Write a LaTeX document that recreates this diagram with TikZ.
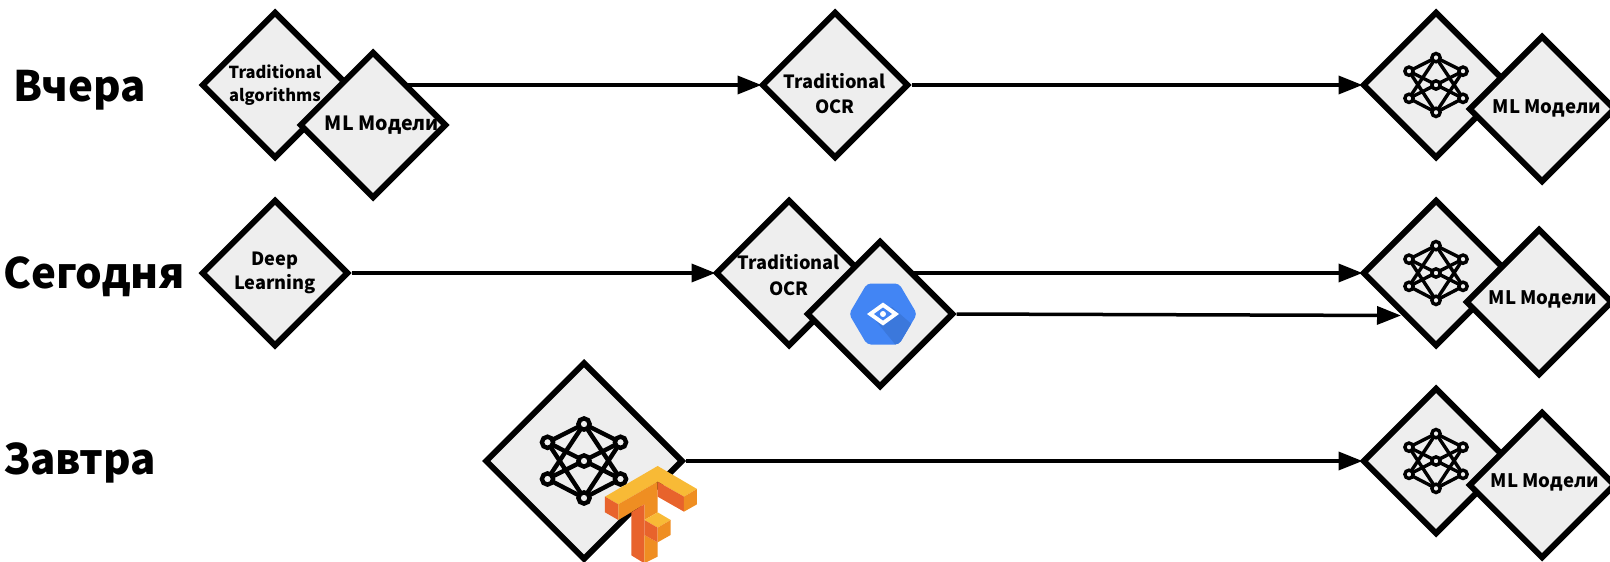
\documentclass[tikz,border=0pt]{standalone}
\usepackage{fontspec}
\setmainfont{Noto Sans CJK SC}
\usetikzlibrary{shapes.geometric,arrows.meta,backgrounds}
\definecolor{boxgrey}{HTML}{EEEEEE}
\definecolor{gvblue}{HTML}{4285F4}
\definecolor{gvshade}{HTML}{3B78DC}
\definecolor{tfyellow}{HTML}{F8BA36}
\definecolor{tforange}{HTML}{EF8E22}
\definecolor{tfred}{HTML}{E8632C}
\tikzset{
  box/.style={diamond,draw=black,fill=boxgrey,line width=6pt,aspect=1,inner sep=0pt,minimum size=147pt},
  bigbox/.style={box,minimum size=198pt},
  lbl/.style={font=\fontsize{16.5}{22.5}\selectfont\bfseries,align=center,inner sep=0pt},
  lblml/.style={font=\fontsize{18.6}{22}\selectfont\bfseries,align=center,inner sep=0pt},
  lblbig/.style={font=\fontsize{18.2}{25.5}\selectfont\bfseries,align=center,inner sep=0pt},
  rowname/.style={font=\fontsize{42}{50}\selectfont\bfseries,anchor=west,inner sep=0pt},
  link/.style={line width=3.5pt,shorten >=-3pt,-{Triangle[length=24pt,width=18pt]}},
  nnicon/.pic={
    \foreach \a/\b in {-36.5/-18.7,36.5/-18.7,-36.5/18,36.5/18}{
      \draw (\a,\b) -- (0,-37);
      \draw (\a,\b) -- (0,37);
    }
    \draw (-36.5,-18.7) -- (36.5,18);
    \draw (36.5,-18.7) -- (-36.5,18);
    \foreach \a/\b in {0/-37,0/37,0/0,-36.5/-18.7,36.5/-18.7,-36.5/18,36.5/18}
      \draw[fill=boxgrey] (\a,\b) circle (5.6);
  }
}
\begin{document}
\begin{tikzpicture}[x=1pt,y=-1pt]
\useasboundingbox (0,0) rectangle (1610,562);
% row names
\node[rowname] (yesterday) at (13,90) {Вчера};
\node[rowname] (today) at (3,277) {Сегодня};
\node[rowname] (tomorrow) at (3,463) {Завтра};
% first row
\node[box] (algA) at (275,85) {};
\node[box] (mlA) at (373,125) {};
\node[box] (ocrA) at (835,85) {};
\node[box] (nnA) at (1436,85) {};
\node[box] (mlB) at (1542,109) {};
\node[lbl] (algText) at (275,85) {Traditional\\algorithms};
\node[font=\fontsize{19.6}{22}\selectfont\bfseries,inner sep=0pt] (mlAText) at (382,125) {ML Модели};
\node[lblbig] (ocrAText) at (835,93.5) {Traditional\\OCR};
\node[lblml] (mlBText) at (1547,108) {ML Модели};
\pic[scale=.74,line width=3.4pt] at (nnA) {nnicon};
% second row
\node[box] (deep) at (275,273) {};
\node[box] (ocrB) at (789,273) {};
\node[box] (gvB) at (880,314) {};
\node[box] (nnB) at (1436,273) {};
\node[box] (mlC) at (1539,302) {};
\node[lbl,font=\fontsize{18.2}{24.5}\selectfont\bfseries] (deepText) at (275,273) {Deep\\Learning};
\node[lblbig] (ocrBText) at (789,275) {Traditional\\OCR};
\node[lblml] (mlCText) at (1543,299.5) {ML Модели};
\pic[scale=.74,line width=3.4pt] at (nnB) {nnicon};
\coordinate (tipB) at (1398,315.5);
% vision logo
\begin{scope}[shift={(883,314)}]
  \begin{scope}
    \clip[rounded corners=4pt] (-34,0) -- (-16,-30.5) -- (16,-30.5) -- (34,0) -- (16,30.5) -- (-16,30.5) -- cycle;
    \fill[gvblue] (-34,-31) rectangle (34,31);
    \fill[gvshade] (-7,7) -- (9,-7) -- (40,20) -- (20,40) -- cycle;
  \end{scope}
  \fill[white] (-16,0) -- (0,-11.5) -- (16,0) -- (0,11.5) -- cycle;
  \fill[gvblue] (-9,0) -- (0,-6.5) -- (9,0) -- (0,6.5) -- cycle;
  \fill[white] (0,0) circle (3);
\end{scope}
% third row
\node[bigbox] (nnBig) at (584,461) {};
\node[box] (nnC) at (1436,461) {};
\node[box] (mlD) at (1542,485) {};
\node[lblml] (mlDText) at (1545,482) {ML Модели};
\pic[line width=4.4pt] at (nnBig) {nnicon};
\pic[scale=.74,line width=3.4pt] at (nnC) {nnicon};
% tensorflow logo
\begin{scope}[shift={(480,350)},x=.3333pt,y=-.3333pt]
  \fill[tfyellow] (375,440) -- (533,348) -- (651,417) -- (612,440) -- (533,395) -- (415,463) -- cycle;
  \fill[tfred] (375,440) -- (415,463) -- (415,510) -- (375,487) -- cycle;
  \fill[tforange] (415,463) -- (533,395) -- (533,487) -- (493,510) -- (493,463) -- (415,510) -- cycle;
  \fill[tfred] (533,395) -- (612,440) -- (612,485) -- (533,440) -- cycle;
  \fill[tforange] (612,440) -- (651,417) -- (651,463) -- (612,485) -- cycle;
  \fill[tfred] (454,487) -- (493,463) -- (493,640) -- (454,616) -- cycle;
  \fill[tforange] (493,555) -- (533,577) -- (533,620) -- (493,640) -- cycle;
  \fill[tfyellow] (493,510) -- (533,487) -- (572,510) -- (533,533) -- cycle;
  \fill[tfred] (493,510) -- (533,533) -- (533,577) -- (493,555) -- cycle;
  \fill[tforange] (533,533) -- (572,510) -- (572,555) -- (533,577) -- cycle;
\end{scope}
% connectors
\begin{scope}[on background layer]
  \draw[link] (algA.east) -- (ocrA.west);
  \draw[link] (ocrA.east) -- (nnA.west);
  \draw[link] (deep.east) -- (ocrB.west);
  \draw[link] (ocrB.east) -- (nnB.west);
  \draw[link] (gvB.east) -- (tipB);
  \draw[link] (nnBig.east) -- (nnC.west);
\end{scope}
\end{tikzpicture}
\end{document}
